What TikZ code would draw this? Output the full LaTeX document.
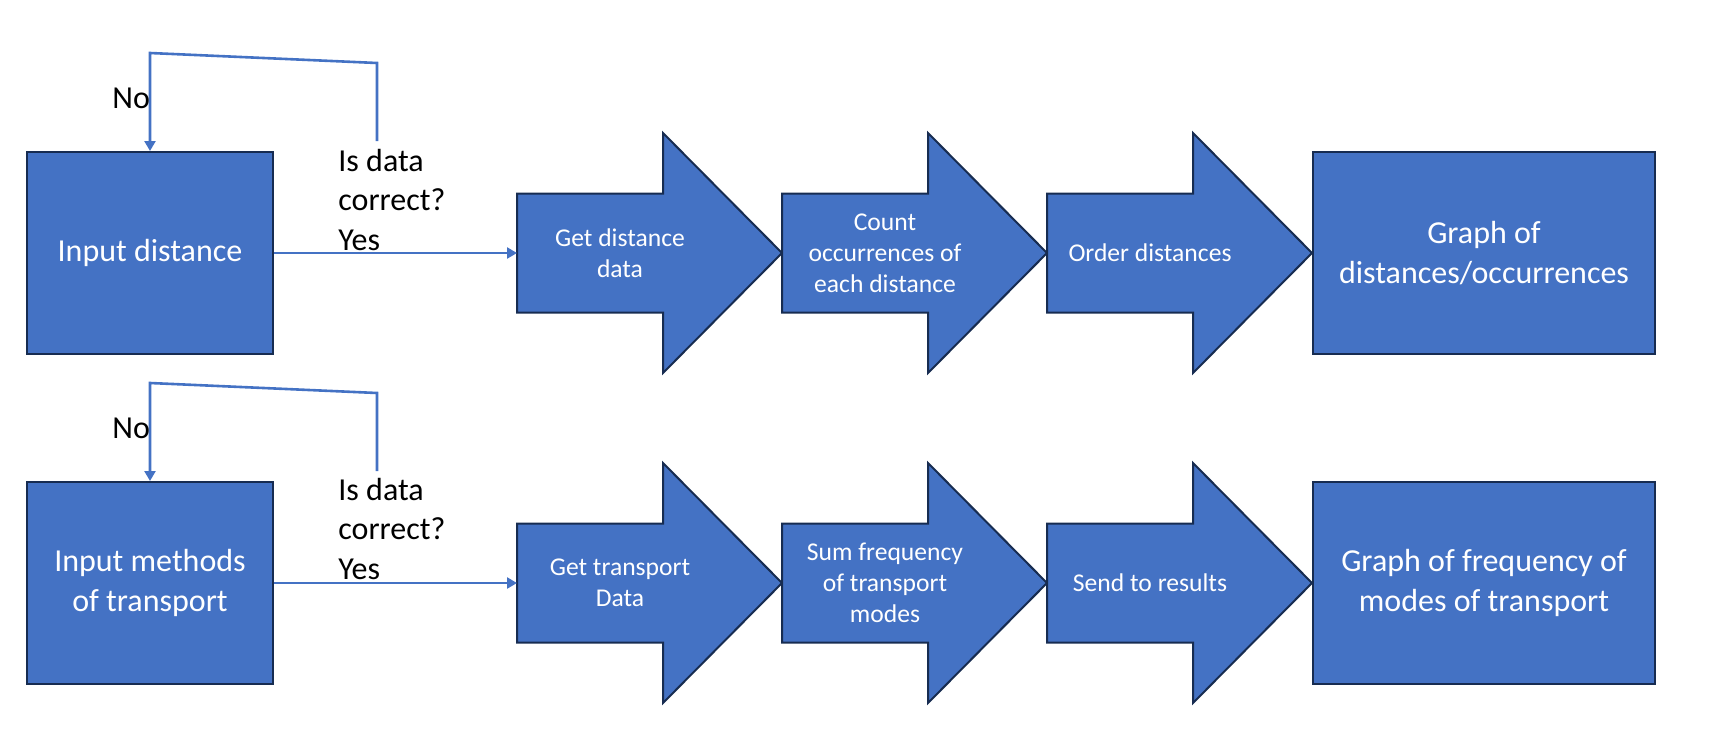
\documentclass[tikz,border=0pt]{standalone}
\usepackage{fontspec}
\setmainfont{Carlito}
\usetikzlibrary{arrows.meta}
\definecolor{fillblue}{HTML}{4472C4}
\definecolor{edgeblue}{HTML}{172C51}
\begin{document}
\begin{tikzpicture}[x=0.5pt,y=-0.5pt,
  inbox/.style={draw=edgeblue, fill=fillblue, line width=1pt, minimum width=123pt, minimum height=101pt,
    text=white, align=center, font=\fontsize{16}{20}\selectfont, inner sep=0pt},
  graphbox/.style={inbox, minimum width=171pt},
  blockarrow/.style={draw=edgeblue, fill=fillblue, line width=1pt, line join=miter},
  arrtext/.style={text=white, align=center, font=\fontsize{12.8}{15.6}\selectfont, inner sep=0pt},
  lbl/.style={text=black, align=left, font=\fontsize{16}{19.75}\selectfont, inner sep=0pt},
  conn/.style={draw=fillblue, line width=1.3pt, -{Triangle[length=5pt,width=5.5pt]}},
  pics/flowarrow/.style={code={
    \draw[blockarrow] (0,-59.5) -- (146,-59.5) -- (146,-120) -- (265,0) -- (146,120) -- (146,59.5) -- (0,59.5) -- cycle;}}
]
\useasboundingbox (0,0) rectangle (1729,728);

% ---------- row 1 ----------
\node[inbox] (in1) at (150,253) {Input distance};
\pic at (517,253) {flowarrow};
\pic at (782,253) {flowarrow};
\pic at (1047,253) {flowarrow};
\coordinate (a1) at (517,253);
\node[arrtext] (t1) at (620,253) {Get distance\\data};
\node[arrtext] (t2) at (885,253) {Count\\occurrences of\\each distance};
\node[arrtext] (t3) at (1150,253) {Order distances};
\node[graphbox] (g1) at (1484,253) {Graph of\\distances/occurrences};

\coordinate (q1) at (377,141);
\draw[conn] (q1) -- (377,63) -- (150,53) -- (in1.north);
\draw[conn] (in1.east) -- (a1);
\node[lbl, anchor=base west] (no1) at (112,108) {No};
\node[lbl, anchor=base west] (ask1) at (338,250) {Is data\\correct?\\Yes};

% ---------- row 2 ----------
\node[inbox] (in2) at (150,583) {Input methods\\of transport};
\pic at (517,583) {flowarrow};
\pic at (782,583) {flowarrow};
\pic at (1047,583) {flowarrow};
\coordinate (a2) at (517,583);
\node[arrtext] (t4) at (620,583) {Get transport\\Data};
\node[arrtext] (t5) at (885,583) {Sum frequency\\of transport\\modes};
\node[arrtext] (t6) at (1150,583) {Send to results};
\node[graphbox] (g2) at (1484,583) {Graph of frequency of\\modes of transport};

\coordinate (q2) at (377,471);
\draw[conn] (q2) -- (377,393) -- (150,383) -- (in2.north);
\draw[conn] (in2.east) -- (a2);
\node[lbl, anchor=base west] (no2) at (112,438) {No};
\node[lbl, anchor=base west] (ask2) at (338,579) {Is data\\correct?\\Yes};
\end{tikzpicture}
\end{document}
